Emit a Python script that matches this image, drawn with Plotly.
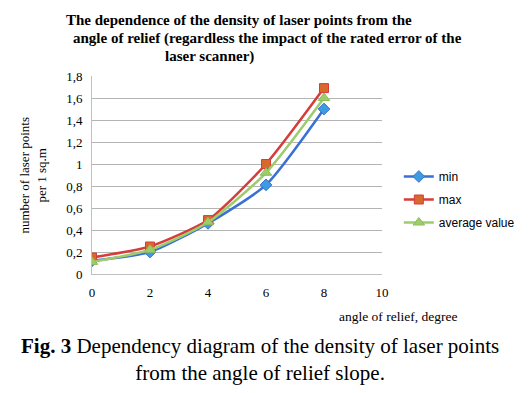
import plotly.graph_objects as go

angles = [0, 2, 4, 6, 8]
min_vals = [0.12, 0.20, 0.46, 0.81, 1.50]
max_vals = [0.15, 0.25, 0.49, 1.00, 1.69]
avg_vals = [0.11, 0.22, 0.47, 0.92, 1.60]

y_ticks = [0, 0.2, 0.4, 0.6, 0.8, 1, 1.2, 1.4, 1.6, 1.8]
y_tick_labels = ["0", "0,2", "0,4", "0,6", "0,8", "1", "1,2", "1,4", "1,6", "1,8"]
x_ticks = [0, 2, 4, 6, 8, 10]

# page body has an 8px default margin; shift everything by it
OFF = 8
L, T, PW, PH = 92 - OFF, 76 - OFF, 293, 198

fig = go.Figure()
fig.add_trace(go.Scatter(
    x=angles, y=min_vals, name="min", mode="lines+markers", legendgroup="g1",
    line=dict(color="#3a6fd6", width=2.5, shape="spline", smoothing=0.6),
    marker=dict(symbol="diamond", size=9, color="#3d9be0", line=dict(color="#3a6fd6", width=1)),
))
fig.add_trace(go.Scatter(
    x=angles, y=max_vals, name="max", mode="lines+markers", legendgroup="g2",
    line=dict(color="#d63c38", width=2.5, shape="spline", smoothing=0.6),
    marker=dict(symbol="square", size=9, color="#d8692e", line=dict(color="#d63c38", width=1)),
))
fig.add_trace(go.Scatter(
    x=angles, y=avg_vals, name="average value", mode="lines+markers", legendgroup="g3",
    line=dict(color="#9ccc6b", width=2.5, shape="spline", smoothing=0.6),
    marker=dict(symbol="triangle-up", size=10, color="#9ccc6b", line=dict(color="#8cc05a", width=1)),
))

serif = "Liberation Serif, Times New Roman, serif"


def px(xp):
    return (xp - 92) / PW


def py(yp):
    return (274 - yp) / PH


ann = [
    dict(text="<b>The dependence of the density of laser points from the</b>", x=64, y=20),
    dict(text="<b>angle of relief (regardless the impact of the rated error of the</b>", x=71, y=38),
    dict(text="<b>laser scanner)</b>", x=164, y=57),
]
annotations = []
for a in ann:
    annotations.append(dict(text=a["text"], xref="paper", yref="paper",
                            x=px(a["x"]), y=py(a["y"]),
                            xanchor="left", yanchor="middle", showarrow=False,
                            font=dict(family=serif, size=15, color="#000")))
annotations.append(dict(text="number of laser points<br>per 1 sq.m", xref="paper", yref="paper",
                        x=px(32), y=py(175), textangle=-90,
                        xanchor="center", yanchor="middle", showarrow=False,
                        font=dict(family=serif, size=13, color="#000")))
annotations.append(dict(text="angle of relief, degree", xref="paper", yref="paper",
                        x=px(401), y=py(316),
                        xanchor="center", yanchor="middle", showarrow=False,
                        font=dict(family=serif, size=13.5, color="#000")))
annotations.append(dict(text="<b>Fig. 3</b> Dependency diagram of the density of laser points<br>from the angle of relief slope.",
                        xref="paper", yref="paper",
                        x=px(262), y=py(359),
                        xanchor="center", yanchor="middle", showarrow=False,
                        font=dict(family=serif, size=21, color="#000")))

fig.update_layout(
    width=532 - OFF, height=393 - OFF,
    margin=dict(l=L, r=532 - OFF - L - PW, t=T, b=393 - OFF - T - PH),
    paper_bgcolor="white", plot_bgcolor="white",
    showlegend=True,
    legend=dict(x=px(402), y=py(162), xanchor="left", yanchor="top",
                font=dict(family="Liberation Sans, Arial, sans-serif", size=12, color="#000"),
                tracegroupgap=4, itemwidth=30),
    annotations=annotations,
    xaxis=dict(range=[0, 10], tickvals=x_ticks, showgrid=False, showline=True,
               linecolor="#c0c0c0", linewidth=1, ticks="", zeroline=False,
               ticklabelstandoff=6,
               tickfont=dict(family=serif, size=13, color="#000")),
    yaxis=dict(range=[0, 1.8], tickvals=y_ticks, ticktext=y_tick_labels,
               showgrid=True, gridcolor="#b4b4b4", gridwidth=1,
               showline=True, linecolor="#c0c0c0", linewidth=1, ticks="", zeroline=False,
               ticklabelstandoff=6,
               tickfont=dict(family=serif, size=13, color="#000")),
)

fig.write_html("out.html")
